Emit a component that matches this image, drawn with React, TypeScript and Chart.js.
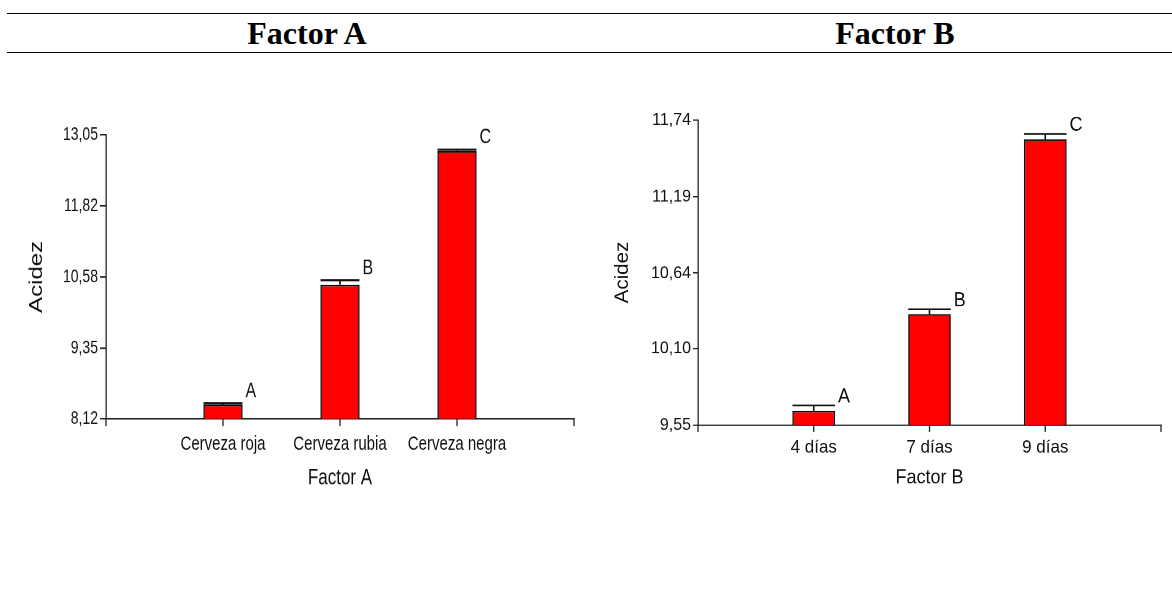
import React, { useEffect, useRef } from 'react';
import { Chart, registerables } from 'chart.js';

Chart.register(...registerables);

// ---------- data ----------
const categoriesA = ['Cerveza roja', 'Cerveza rubia', 'Cerveza negra'];
const meansA = [8.37, 10.45, 12.77];
const errorsA = [0.025, 0.08, 0.025];
const lettersA = ['A', 'B', 'C'];
const yTicksA = [8.12, 9.35, 10.58, 11.82, 13.05];

const categoriesB = ['4 días', '7 días', '9 días'];
const meansB = [9.65, 10.345, 11.6];
const errorsB = [0.04, 0.036, 0.04];
const lettersB = ['A', 'B', 'C'];
const yTicksB = [9.55, 10.1, 10.64, 11.19, 11.74];

const headerTitles = ['Factor A', 'Factor B'];
const yTitle = 'Acidez';

// ---------- style ----------
const FONT = "'Liberation Sans', Arial, sans-serif";
const TEXT = '#111';
const AXIS = '#222';

type PanelStyle = {
  width: number; height: number; stretch: number;
  padTop: number; padRight: number;
  yWidth: number; yTitleSize: number; yTitlePad: number; yTickSize: number; yTickLen: number;
  xHeight: number; xTickLen: number; xTickPad: number; xTickSize: number;
  xTitleSize: number; xTitlePad: number;
  barPct: number; letterSize: number; letterDx: number; letterDy: number;
};

const styleA: PanelStyle = {
  width: 586, height: 330, stretch: 1.33,
  padTop: 26.3, padRight: 12,
  yWidth: 106, yTitleSize: 18, yTitlePad: 26.2, yTickSize: 14, yTickLen: 6,
  xHeight: 90.2, xTickLen: 5.3, xTickPad: 4.7, xTickSize: 15,
  xTitleSize: 17, xTitlePad: 35.6,
  barPct: 0.333, letterSize: 16, letterDx: 3, letterDy: -9,
};

const styleB: PanelStyle = {
  width: 586, height: 380, stretch: 1.08,
  padTop: 18.5, padRight: 11,
  yWidth: 112, yTitleSize: 19, yTitlePad: 25.6, yTickSize: 16, yTickLen: 5,
  xHeight: 79.1, xTickLen: 6.5, xTickPad: 4.1, xTickSize: 17,
  xTitleSize: 18, xTitlePad: 19.2,
  barPct: 0.368, letterSize: 18, letterDx: 3, letterDy: -7.9,
};

function makeOverlay(means: number[], errors: number[], letters: string[], st: PanelStyle) {
  return {
    id: 'errorsAndLetters',
    afterDraw(chart: any) {
      const { ctx } = chart;
      const meta = chart.getDatasetMeta(0);
      const yScale = chart.scales.y;
      const xScale = chart.scales.x;
      ctx.save();
      // tick marks below the axis at every category position
      ctx.strokeStyle = AXIS;
      ctx.lineWidth = 1.3;
      const base = xScale.top;
      for (let i = 0; i <= means.length + 1; i++) {
        const px = xScale.getPixelForTick(i);
        ctx.beginPath();
        ctx.moveTo(px, base - 0.5);
        ctx.lineTo(px, base + st.xTickLen);
        ctx.stroke();
      }
      // error bars + letters
      ctx.strokeStyle = '#111';
      ctx.lineWidth = 1.6;
      ctx.fillStyle = TEXT;
      ctx.font = `${st.letterSize}px ${FONT}`;
      ctx.textAlign = 'left';
      ctx.textBaseline = 'middle';
      means.forEach((m, i) => {
        const el = meta.data[i + 1];
        if (!el) return;
        const capY = yScale.getPixelForValue(m + errors[i]);
        const half = el.width / 2;
        ctx.beginPath();
        ctx.moveTo(el.x, el.y);
        ctx.lineTo(el.x, capY);
        ctx.moveTo(el.x - half, capY);
        ctx.lineTo(el.x + half, capY);
        ctx.stroke();
        ctx.fillText(letters[i], el.x + half + st.letterDx, capY + st.letterDy);
      });
      ctx.restore();
    },
  };
}

function buildConfig(categories: string[], means: number[], errors: number[], letters: string[], yTicks: number[], xTitle: string, st: PanelStyle): any {
  const labels = ['', ...categories, ''];
  const values = [null, ...means, null];
  return {
    type: 'bar',
    data: {
      labels,
      datasets: [{
        data: values,
        backgroundColor: '#ff0000',
        borderColor: '#000',
        borderWidth: 1.3,
        borderSkipped: false,
        categoryPercentage: 1,
        barPercentage: st.barPct,
      }],
    },
    options: {
      animation: false,
      responsive: false,
      maintainAspectRatio: false,
      devicePixelRatio: 2,
      layout: { padding: { top: st.padTop, right: st.padRight, bottom: 0, left: 0 } },
      plugins: { legend: { display: false }, tooltip: { enabled: false } },
      scales: {
        x: {
          type: 'category',
          offset: false,
          grid: { display: true, offset: false, drawOnChartArea: false, drawTicks: true, tickLength: st.xTickLen, color: 'rgba(0,0,0,0)', lineWidth: 1.2 },
          border: { display: true, color: AXIS, width: 1.3 },
          ticks: { autoSkip: false, maxRotation: 0, minRotation: 0, padding: st.xTickPad, color: TEXT, font: { family: FONT, size: st.xTickSize } },
          title: { display: true, text: xTitle, color: TEXT, font: { family: FONT, size: st.xTitleSize }, padding: { top: 0, bottom: st.xTitlePad } },
          afterFit: (s: any) => { s.height = st.xHeight; },
        },
        y: {
          type: 'linear',
          min: yTicks[0],
          max: yTicks[yTicks.length - 1],
          afterBuildTicks: (s: any) => { s.ticks = yTicks.map((v) => ({ value: v })); },
          grid: { display: true, drawOnChartArea: false, drawTicks: true, tickLength: st.yTickLen, color: AXIS, lineWidth: 1.2 },
          border: { display: true, color: AXIS, width: 1.3 },
          ticks: {
            padding: 2, color: TEXT, font: { family: FONT, size: st.yTickSize },
            callback: (v: number) => Number(v).toFixed(2).replace('.', ','),
          },
          title: { display: true, text: yTitle, color: TEXT, font: { family: FONT, size: st.yTitleSize }, padding: { top: st.yTitlePad, bottom: 0 } },
          afterFit: (s: any) => { s.width = st.yWidth; },
        },
      },
    },
    plugins: [makeOverlay(means, errors, letters, st)],
  };
}

function Panel(props: { left: number; top: number; st: PanelStyle; config: () => any }) {
  const ref = useRef<HTMLCanvasElement>(null);
  useEffect(() => {
    const chart = new Chart(ref.current as HTMLCanvasElement, props.config());
    return () => chart.destroy();
  }, []);
  const { st } = props;
  return (
    <div style={{ position: 'absolute', left: props.left, top: props.top, width: st.width, height: st.height, transform: `scaleY(${st.stretch})`, transformOrigin: '0 0' }}>
      <canvas ref={ref} width={st.width} height={st.height} style={{ display: 'block' }} />
    </div>
  );
}

export default function App() {
  useEffect(() => {
    document.body.style.margin = '0';
    document.body.style.background = '#fff';
  }, []);
  const headerStyle: React.CSSProperties = {
    position: 'absolute', top: 17, width: 300, marginLeft: -150, textAlign: 'center',
    fontFamily: "'Liberation Serif', 'Times New Roman', serif", fontWeight: 'bold', fontSize: 32, lineHeight: '32px', color: '#000',
  };
  return (
    <div style={{ position: 'relative', width: 1172, height: 599, background: '#fff', overflow: 'hidden' }}>
      <div style={{ position: 'absolute', left: 7, right: 0, top: 12.5, height: 1.5, background: '#000' }} />
      <div style={{ position: 'absolute', left: 7, right: 0, top: 51.5, height: 1.5, background: '#000' }} />
      <div style={{ ...headerStyle, left: 307 }}>{headerTitles[0]}</div>
      <div style={{ ...headerStyle, left: 895 }}>{headerTitles[1]}</div>
      <Panel left={0} top={100} st={styleA} config={() => buildConfig(categoriesA, meansA, errorsA, lettersA, yTicksA, 'Factor A', styleA)} />
      <Panel left={586} top={100} st={styleB} config={() => buildConfig(categoriesB, meansB, errorsB, lettersB, yTicksB, 'Factor B', styleB)} />
    </div>
  );
}
